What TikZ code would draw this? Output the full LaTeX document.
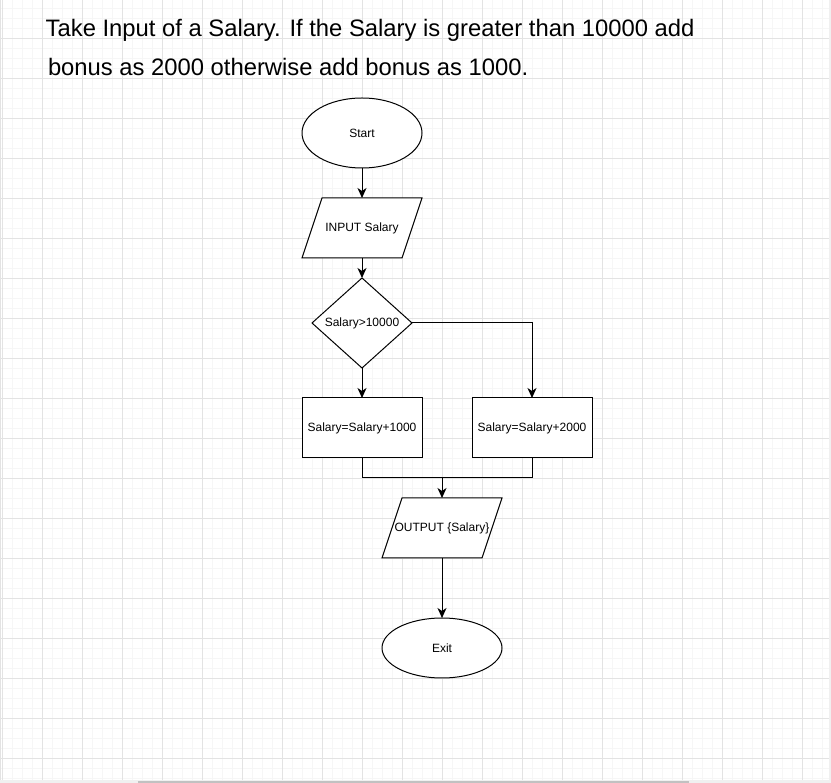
\documentclass[tikz,border=0pt]{standalone}
\usepackage{fontspec}
\setmainfont{Liberation Sans}
\usetikzlibrary{shapes.geometric,arrows.meta}
\definecolor{gridmin}{HTML}{F6F6F6}
\definecolor{gridmaj}{HTML}{E3E3E3}
\definecolor{edgeband}{HTML}{F0F0F0}
\definecolor{scrollc}{HTML}{C1C1C1}
\tikzset{
  base/.style={draw=black, line width=1pt, inner sep=0pt, outer sep=0pt, fill=white,
    font=\fontsize{12pt}{14pt}\selectfont, align=center},
  term/.style={base, ellipse, minimum width=120pt},
  io/.style={base, draw=none, fill=none, rectangle, minimum width=120pt, minimum height=60pt},
  shapeline/.style={draw=black, line width=1pt, fill=white},
  proc/.style={base, rectangle, minimum width=120pt, minimum height=60pt},
  dec/.style={base, diamond, minimum width=100pt, minimum height=90pt},
  arr/.style={draw=black, line width=1pt, -{Stealth[length=10pt,width=9pt,inset=3pt]}},
  conn/.style={draw=black, line width=1pt},
  title/.style={anchor=base west, inner sep=0pt, font=\fontsize{23.8pt}{28pt}\selectfont}
}
\begin{document}
\begin{tikzpicture}[x=1pt,y=-1pt]
\useasboundingbox (0,0) rectangle (831,783);
\fill[white] (0,0) rectangle (831,783);
% grid
\foreach \i in {0,...,82} {\draw[gridmin, line width=0.8pt] (2.3+10*\i,0) -- (2.3+10*\i,780);}
\foreach \i in {0,...,77} {\draw[gridmin, line width=0.8pt] (0,8.3+10*\i) -- (829,8.3+10*\i);}
\foreach \i in {0,...,20} {\draw[gridmaj, line width=0.9pt] (2.3+40*\i,0) -- (2.3+40*\i,780);}
\foreach \i in {0,...,18} {\draw[gridmaj, line width=0.9pt] (0,38.3+40*\i) -- (829,38.3+40*\i);}
\draw[gridmaj, line width=1pt] (0.8,0) -- (0.8,780);
\fill[edgeband] (829,0) rectangle (831,783);
\fill[edgeband] (0,780) rectangle (831,783);
\fill[scrollc] (138,781.3) rectangle (689,783);
% title
\node[title] (t1) at (45.5,36.7) {Take Input of a Salary. If the Salary is greater than 10000 add};
\node[title] (t2) at (47.8,75.7) {bonus as 2000 otherwise add bonus as 1000.};
% parallelogram outlines (drawn beneath their text nodes)
\coordinate (inc) at (362,228);
\coordinate (outc) at (442,528);
\draw[shapeline] (322,198) -- (422,198) -- (402,258) -- (302,258) -- cycle;
\draw[shapeline] (402,498) -- (502,498) -- (482,558) -- (382,558) -- cycle;
% nodes
\node[term, minimum height=70pt] (start) at (362,133) {Start};
\node[io] (in) at (inc) {INPUT Salary};
\node[dec] (cond) at (362,323) {Salary>10000};
\node[proc] (b1) at (362,428) {Salary=Salary+1000};
\node[proc] (b2) at (532,428) {Salary=Salary+2000};
\node[io] (out) at (outc) {OUTPUT \{Salary\}};
\node[term, minimum height=60pt] (exit) at (442,648) {Exit};
\coordinate (m) at (442,478);
% connectors
\draw[arr] (start.south) -- (in.north);
\draw[arr] (in.south) -- (cond.north);
\draw[arr] (cond.south) -- (b1.north);
\draw[arr] (cond.east) -| (b2.north);
\draw[conn] (b2.south) |- (m);
\draw[arr] (b1.south) |- (m) -- (out.north);
\draw[arr] (out.south) -- (exit.north);
\end{tikzpicture}
\end{document}
